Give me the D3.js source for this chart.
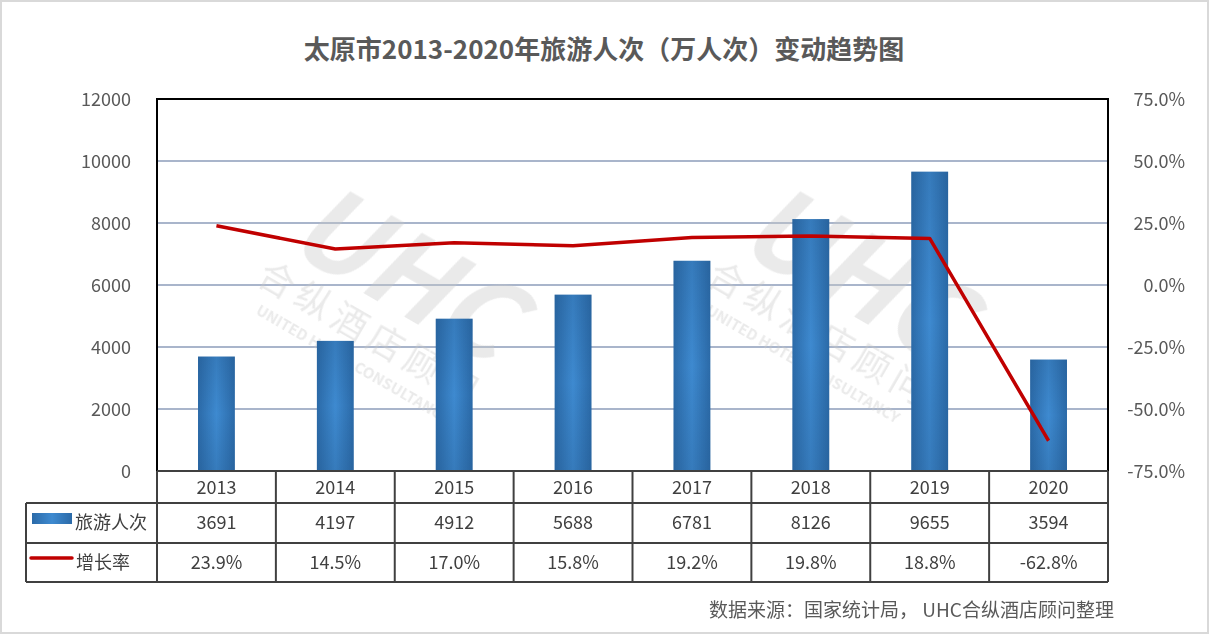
<!DOCTYPE html>
<html>
<head>
<meta charset="utf-8">
<script src="https://cdn.jsdelivr.net/npm/d3@7"></script>
<style>
  body { margin: 0; background: #fff; }
  svg { display: block; font-family: "Noto Sans CJK SC", "Noto Sans", sans-serif; }
</style>
</head>
<body>
<svg width="1209" height="634"></svg>
<script>
let width = 1209;
let height = 634;

let years = ['2013', '2014', '2015', '2016', '2017', '2018', '2019', '2020'];
let visitors = [3691, 4197, 4912, 5688, 6781, 8126, 9655, 3594];
let growth = [23.9, 14.5, 17.0, 15.8, 19.2, 19.8, 18.8, -62.8];
let leftTicks = [0, 2000, 4000, 6000, 8000, 10000, 12000];
let rightTicks = [-75, -50, -25, 0, 25, 50, 75];

let plotLeft = 157, plotRight = 1108, plotTop = 99, plotBottom = 471;
let svg = d3.select('svg');
let pct = d3.formatLocale({decimal: '.', thousands: ',', grouping: [3], currency: ['', ''], minus: '-'}).format('.1f');

// outer border
svg.append('rect')
  .attr('x', 1).attr('y', 1)
  .attr('width', width - 2).attr('height', height - 2)
  .attr('fill', '#fff')
  .attr('stroke', '#d9d9d9')
  .attr('stroke-width', 2)
  ;

let defs = svg.append('defs');
let grad = defs.append('linearGradient').attr('id', 'barGrad');
grad.append('stop').attr('offset', '0%').attr('stop-color', '#2b6aa8');
grad.append('stop').attr('offset', '50%').attr('stop-color', '#3e8ad0');
grad.append('stop').attr('offset', '100%').attr('stop-color', '#2b6aa8');
let vgrad = defs.append('linearGradient').attr('id', 'barShade')
  .attr('x1', 0).attr('y1', 0).attr('x2', 0).attr('y2', 1);
vgrad.append('stop').attr('offset', '0%').attr('stop-color', '#1f4f80').attr('stop-opacity', 0.25);
vgrad.append('stop').attr('offset', '50%').attr('stop-color', '#1f4f80').attr('stop-opacity', 0);
vgrad.append('stop').attr('offset', '100%').attr('stop-color', '#1f4f80').attr('stop-opacity', 0.25);

let x = d3.scaleBand().domain(years).range([plotLeft, plotRight]).paddingInner(0.69).paddingOuter(0.345);
let xc = d3.scaleBand().domain(years).range([plotLeft, plotRight]);
let y = d3.scaleLinear().domain([0, 12000]).range([plotBottom, plotTop]);
let y2 = d3.scaleLinear().domain([-75, 75]).range([plotBottom, plotTop]);

// title
svg.append('text')
  .attr('x', 604).attr('y', 59)
  .attr('text-anchor', 'middle')
  .attr('font-size', 26).attr('font-weight', 'bold')
  .attr('fill', '#595959')
  .text('太原市2013-2020年旅游人次（万人次）变动趋势图')
  ;

// gridlines
svg.append('g')
  .selectAll('line')
  .data(leftTicks.slice(1, -1))
  .enter()
    .append('line')
    .attr('x1', plotLeft).attr('x2', plotRight)
    .attr('y1', d => y(d)).attr('y2', d => y(d))
    .attr('stroke', '#a9b5cb').attr('stroke-width', 2)
  ;

// watermark
let marks = [[390, 320], [840, 320]];
let wm = svg.append('g').attr('fill', '#c8c8c8').attr('opacity', 0.38);
marks.forEach(m => {
  let g = wm.append('g').attr('transform', `translate(${m[0]},${m[1]}) rotate(30)`);
  g.append('text').attr('x', -10).attr('y', -10).attr('text-anchor', 'middle')
    .attr('font-size', 110).attr('font-weight', 'bold').attr('font-style', 'italic')
    .text('UHC');
  g.append('text').attr('x', -10).attr('y', 35).attr('text-anchor', 'middle')
    .attr('font-size', 36).attr('letter-spacing', 6).text('合纵酒店顾问');
  g.append('text').attr('x', -10).attr('y', 62).attr('text-anchor', 'middle')
    .attr('font-size', 15).attr('font-weight', 'bold').text('UNITED HOTEL CONSULTANCY');
});

// bars
let bars = svg.append('g');
bars.selectAll('rect.bar')
  .data(visitors)
  .enter()
    .append('rect')
    .attr('class', 'bar')
    .attr('x', (d, i) => x(years[i]))
    .attr('y', d => y(d))
    .attr('width', x.bandwidth())
    .attr('height', d => y(0) - y(d))
    .attr('fill', 'url(#barGrad)')
  ;
bars.selectAll('rect.shade')
  .data(visitors)
  .enter()
    .append('rect')
    .attr('class', 'shade')
    .attr('x', (d, i) => x(years[i]))
    .attr('y', d => y(d))
    .attr('width', x.bandwidth())
    .attr('height', d => y(0) - y(d))
    .attr('fill', 'url(#barShade)')
  ;

// growth line
svg.append('path')
  .datum(growth)
  .attr('fill', 'none')
  .attr('stroke', '#c00000')
  .attr('stroke-width', 3.5)
  .attr('stroke-linejoin', 'round')
  .attr('d', d3.line()
    .x((d, i) => xc(years[i]) + xc.bandwidth() / 2)
    .y(d => y2(d)))
  ;

// plot frame
svg.append('rect')
  .attr('x', plotLeft).attr('y', plotTop)
  .attr('width', plotRight - plotLeft).attr('height', plotBottom - plotTop)
  .attr('fill', 'none').attr('stroke', '#000').attr('stroke-width', 2)
  ;

// axes labels
svg.append('g')
  .selectAll('text')
  .data(leftTicks)
  .enter()
    .append('text')
    .attr('x', 131).attr('y', d => y(d) + 7)
    .attr('text-anchor', 'end')
    .attr('font-size', 18).attr('fill', '#595959')
    .text(d => d)
  ;
svg.append('g')
  .selectAll('text')
  .data(rightTicks)
  .enter()
    .append('text')
    .attr('x', 1185).attr('y', d => y2(d) + 7)
    .attr('text-anchor', 'end')
    .attr('font-size', 18).attr('fill', '#595959')
    .text(d => pct(d) + '%')
  ;

// data table
let rowY = [471, 503, 543, 582];
let tableLeft = 26;
let table = svg.append('g').attr('stroke', '#404040').attr('stroke-width', 2);
table.append('line').attr('x1', plotLeft).attr('x2', plotRight).attr('y1', rowY[0]).attr('y2', rowY[0]);
table.append('line').attr('x1', tableLeft).attr('x2', plotRight).attr('y1', rowY[1]).attr('y2', rowY[1]);
table.append('line').attr('x1', tableLeft).attr('x2', plotRight).attr('y1', rowY[2]).attr('y2', rowY[2]);
table.append('line').attr('x1', tableLeft).attr('x2', plotRight).attr('y1', rowY[3]).attr('y2', rowY[3]);
table.append('line').attr('x1', tableLeft).attr('x2', tableLeft).attr('y1', rowY[1]).attr('y2', rowY[3]);
table.selectAll('line.col')
  .data(years.concat(['end']))
  .enter()
    .append('line')
    .attr('class', 'col')
    .attr('x1', d => d === 'end' ? plotRight : xc(d))
    .attr('x2', d => d === 'end' ? plotRight : xc(d))
    .attr('y1', rowY[0]).attr('y2', rowY[3])
  ;

let cellText = (vals, cy, fmt) => {
  svg.append('g')
    .selectAll('text')
    .data(vals)
    .enter()
      .append('text')
      .attr('x', (d, i) => xc(years[i]) + xc.bandwidth() / 2)
      .attr('y', cy)
      .attr('text-anchor', 'middle')
      .attr('font-size', 18).attr('fill', '#404040')
      .text(fmt)
    ;
};
cellText(years, 494, d => d);
cellText(visitors, 529, d => d);
cellText(growth, 569, d => pct(d) + '%');

// legend keys in table
svg.append('rect')
  .attr('x', 32).attr('y', 513).attr('width', 40).attr('height', 11)
  .attr('fill', 'url(#barGrad)');
svg.append('line')
  .attr('x1', 31).attr('x2', 72).attr('y1', 558).attr('y2', 558)
  .attr('stroke', '#c00000').attr('stroke-width', 3.5).attr('stroke-linecap', 'round');
svg.append('text').attr('x', 75).attr('y', 529)
  .attr('font-size', 18).attr('fill', '#404040').text('旅游人次');
svg.append('text').attr('x', 76).attr('y', 569)
  .attr('font-size', 18).attr('fill', '#404040').text('增长率');

// source
svg.append('text')
  .attr('x', 1114).attr('y', 617)
  .attr('text-anchor', 'end')
  .attr('font-size', 19).attr('fill', '#595959')
  .text('数据来源：国家统计局， UHC合纵酒店顾问整理')
  ;
</script>
</body>
</html>
